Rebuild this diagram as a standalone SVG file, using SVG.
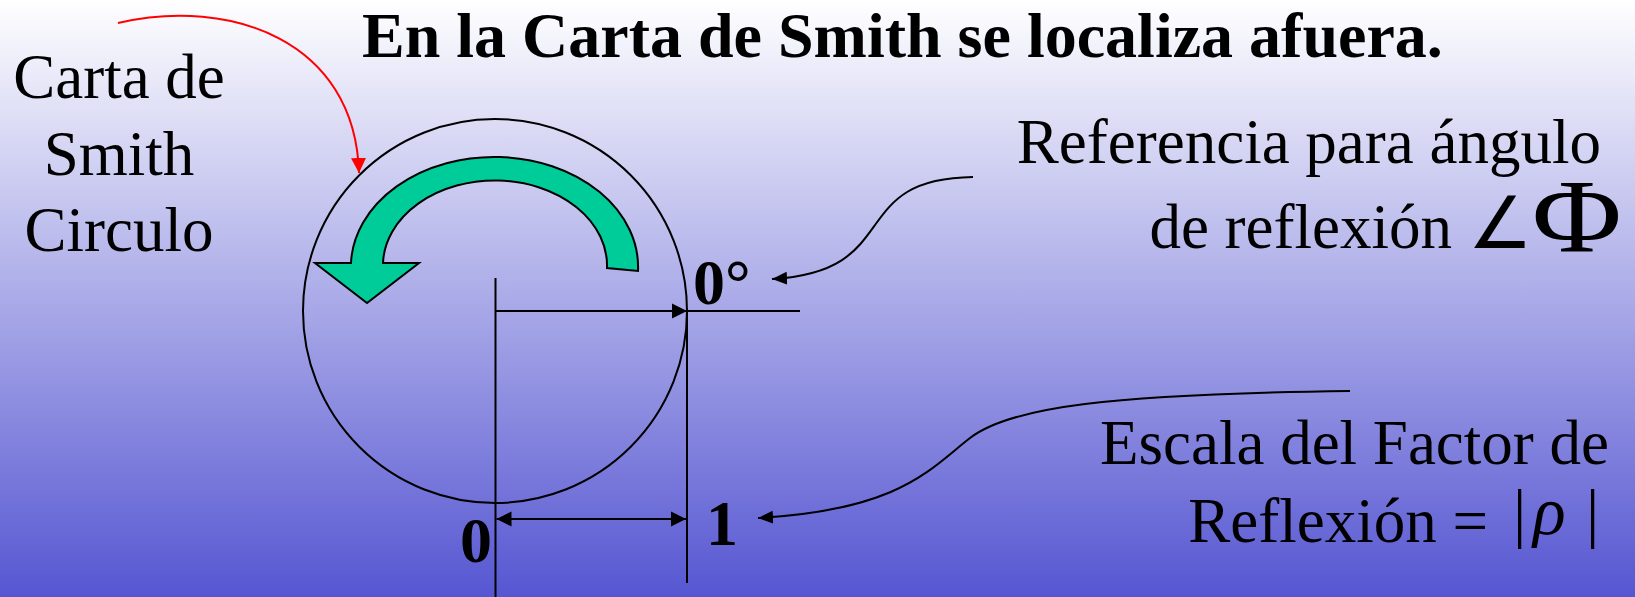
<svg xmlns="http://www.w3.org/2000/svg" width="1635" height="597" viewBox="0 0 1635 597">
<defs>
<linearGradient id="bg" x1="0" y1="0" x2="0" y2="1">
<stop offset="0" stop-color="#FFFFFF"/>
<stop offset="1" stop-color="#5656D2"/>
</linearGradient>
<marker id="ah" viewBox="0 0 16 16" refX="15" refY="8" markerWidth="16" markerHeight="16" markerUnits="userSpaceOnUse" orient="auto-start-reverse">
<path d="M0,0.5 L15,8 L0,15.5 Z" fill="#000"/>
</marker>
<marker id="ahs" viewBox="0 0 16 14" refX="15" refY="7" markerWidth="16" markerHeight="14" markerUnits="userSpaceOnUse" orient="auto">
<path d="M0,0.5 L15,7 L0,13.5 Z" fill="#000"/>
</marker>
<marker id="ahr" viewBox="0 0 16 16" refX="15" refY="8" markerWidth="16" markerHeight="16" markerUnits="userSpaceOnUse" orient="auto">
<path d="M0,0.5 L15,8 L0,15.5 Z" fill="#FF0000"/>
</marker>
</defs>
<style>
.t{font-family:"Liberation Serif","Times New Roman",serif;font-size:63px;fill:#000}
.b{font-family:"Liberation Serif","Times New Roman",serif;font-weight:bold;font-size:64px;fill:#000}
.ln{stroke:#000;stroke-width:2;fill:none}
</style>
<rect x="0" y="0" width="1635" height="597" fill="url(#bg)"/>

<g id="title">
<text class="b" x="362" y="57">En la Carta de Smith se localiza afuera.</text>
</g>

<g id="label-carta">
<text class="t" x="119" y="98" text-anchor="middle">Carta de</text>
<text class="t" x="119" y="175" text-anchor="middle">Smith</text>
<text class="t" x="119" y="251" text-anchor="middle">Circulo</text>
</g>

<g id="smith-circle">
<circle cx="495" cy="311" r="192" fill="none" stroke="#000" stroke-width="2"/>
</g>

<g id="rotation-arrow">
<path d="M638,271 A143.5,110 0 0 0 351,263 L315,263 L367,303 L419,263 L383,263 A112,85 0 0 1 607,268 Z" fill="#00CC99" stroke="#000" stroke-width="2" stroke-linejoin="miter"/>
</g>

<g id="label-0deg">
<text class="b" x="693" y="304">0°</text>
</g>
<g id="label-0">
<text class="b" x="460" y="562">0</text>
</g>
<g id="label-1">
<text class="b" x="706" y="545">1</text>
</g>

<g id="label-ref">
<text class="t" x="1601" y="163" text-anchor="end">Referencia para ángulo</text>
<text class="t" x="1452" y="248" text-anchor="end">de reflexión</text>
<text class="t" x="1468" y="248" style="font-family:'DejaVu Sans',sans-serif;font-weight:200;font-size:72px">∠</text>
<text class="t" transform="translate(1532,251) scale(1.18,1)" x="0" y="0" style="font-size:104px">Φ</text>
</g>

<g id="label-escala">
<text class="t" x="1609" y="464" text-anchor="end">Escala del Factor de</text>
<text class="t" x="1488" y="542" text-anchor="end">Reflexión =</text>
<text class="t" x="1513" y="535" style="font-size:66px">|</text>
<text class="t" x="1533" y="534" style="font-size:68px;font-style:italic">ρ</text>
<text class="t" x="1586" y="535" style="font-size:66px">|</text>
</g>

<g id="connectors">
<line class="ln" x1="495.5" y1="278" x2="495.5" y2="597"/>
<line class="ln" x1="687" y1="311" x2="687" y2="583"/>
<line class="ln" x1="495.5" y1="311" x2="687" y2="311" marker-end="url(#ah)"/>
<line class="ln" x1="687" y1="311" x2="800" y2="311"/>
<line class="ln" x1="496.5" y1="519" x2="686" y2="519" marker-start="url(#ah)" marker-end="url(#ah)"/>
<path class="ln" d="M973,177 C910,178 893,200 875,225 S840,275 772,279" marker-end="url(#ahs)"/>
<path class="ln" d="M1350,391 C1110,394 1010,407 970,438 S900,510 758,518" marker-end="url(#ahs)"/>
<path d="M118,23 C230,-3 355,40 359,173" fill="none" stroke="#FF0000" stroke-width="2" marker-end="url(#ahr)"/>
</g>
</svg>
